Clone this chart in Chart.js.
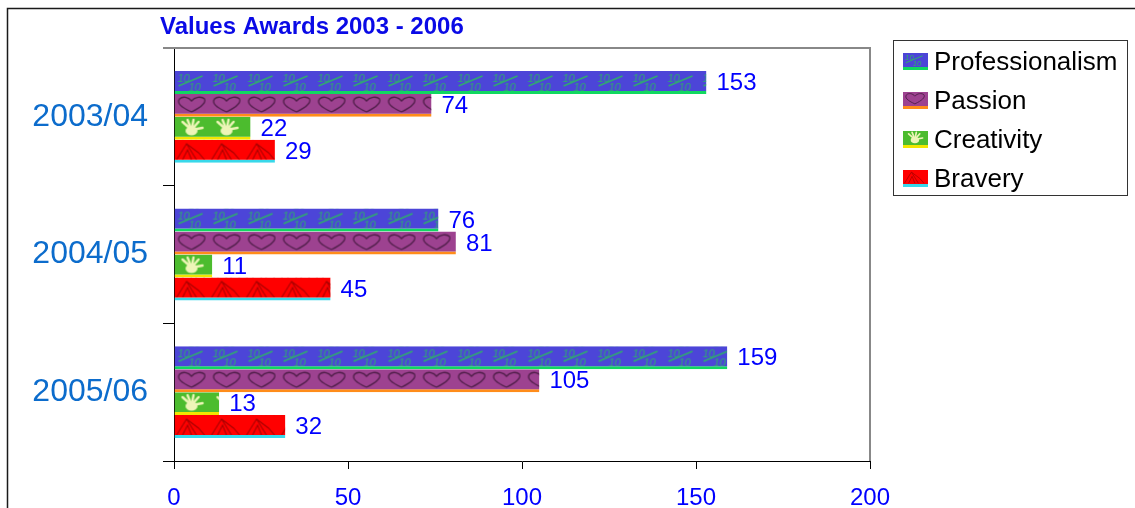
<!DOCTYPE html>
<html>
<head>
<meta charset="utf-8">
<script src="https://cdn.jsdelivr.net/npm/chart.js@4/dist/chart.umd.min.js"></script>
<style>
  body { margin: 0; background: #fff; }
  #wrap { position: relative; width: 1135px; height: 508px; overflow: hidden; }
  #legend {
    position: absolute; left: 893px; top: 40px; width: 233px; height: 154px;
    border: 1px solid #333; background: #fff;
    font-family: "Liberation Sans", Arial, sans-serif; font-size: 26px; color: #000;
  }
  .row { position: absolute; left: 9px; height: 30px; display: flex; align-items: center; }
  .row canvas { margin-right: 6px; }
</style>
</head>
<body>
<div id="wrap">
  <canvas id="chart" width="1135" height="508"></canvas>
  <div id="legend"></div>
</div>
<script>
var categories = ["2003/04", "2004/05", "2005/06"];
var professionalism = [153, 76, 159];
var passion = [74, 81, 105];
var creativity = [22, 11, 13];
var bravery = [29, 45, 32];
var xTicks = [0, 50, 100, 150, 200];
var chartTitle = "Values Awards 2003 - 2006";

var FONT = "'Liberation Sans', Arial, sans-serif";

// little picture tiles that repeat inside each bar
function drawGlyph(g, kind) {
    g.save();
    if (kind == "pro") {
        g.fillStyle = "#2fae6c";
        g.strokeStyle = "#2fae6c";
        g.lineWidth = 1.4;
        g.font = "italic 11px " + FONT;
        g.fillText("10", 3, 10);
        g.fillText("10", 14, 19);
        g.beginPath();
        g.moveTo(4, 14);
        g.lineTo(28, 4);
        g.stroke();
    } else if (kind == "pas") {
        g.strokeStyle = "#4e1e48";
        g.lineWidth = 1.3;
        g.beginPath();
        g.moveTo(17, 17);
        g.bezierCurveTo(6, 12, 2, 8, 5, 4);
        g.bezierCurveTo(8, 1, 14, 2, 17, 6);
        g.bezierCurveTo(20, 2, 27, 1, 30, 4);
        g.bezierCurveTo(32, 8, 27, 12, 17, 17);
        g.stroke();
    } else if (kind == "cre") {
        g.fillStyle = "#eef5b8";
        g.strokeStyle = "#eef5b8";
        g.lineCap = "round";
        g.beginPath();
        g.ellipse(17, 13, 6, 4.5, 0, 0, Math.PI * 2);
        g.fill();
        g.lineWidth = 2.4;
        var fingers = [[8, 4], [13, 2], [19, 2], [24, 4], [28, 10]];
        for (var i = 0; i < fingers.length; i++) {
            g.beginPath();
            g.moveTo(17, 12);
            g.lineTo(fingers[i][0], fingers[i][1]);
            g.stroke();
        }
    } else if (kind == "bra") {
        g.strokeStyle = "#a80000";
        g.lineWidth = 1.1;
        g.beginPath();
        g.moveTo(2, 19); g.lineTo(12, 3); g.lineTo(22, 19);
        g.moveTo(8, 19); g.lineTo(13, 9); g.lineTo(17, 19);
        g.moveTo(12, 3); g.lineTo(24, 12); g.lineTo(30, 19);
        g.stroke();
    }
    g.restore();
}

function makeTile(kind) {
    var c = document.createElement("canvas");
    c.width = 35;
    c.height = 20;
    drawGlyph(c.getContext("2d"), kind);
    return c;
}

var series = [
    { label: "Professionalism", data: professionalism, fill: "#4c45d8", stripe: "#10d860", glyph: "pro" },
    { label: "Passion", data: passion, fill: "#9d4290", stripe: "#ff8c1a", glyph: "pas" },
    { label: "Creativity", data: creativity, fill: "#4cbc2e", stripe: "#f2e600", glyph: "cre" },
    { label: "Bravery", data: bravery, fill: "#ff0000", stripe: "#38d8ea", glyph: "bra" }
];
series.forEach(function (s) { s.tile = makeTile(s.glyph); });

var datasets = series.map(function (s) {
    return {
        label: s.label,
        data: s.data,
        backgroundColor: s.fill,
        borderColor: s.stripe,
        borderWidth: { top: 0, right: 0, bottom: 3, left: 0 },
        borderSkipped: false,
        categoryPercentage: 0.667,
        barPercentage: 1.0
    };
});

var decorPlugin = {
    id: "decor",
    beforeDraw: function (chart) {
        var g = chart.ctx;
        g.save();
        g.strokeStyle = "#1a1a1a";
        g.lineWidth = 1.5;
        g.beginPath();
        g.moveTo(7.5, 508);
        g.lineTo(7.5, 8.5);
        g.lineTo(1135, 8.5);
        g.stroke();
        g.fillStyle = "#0a0ae6";
        g.font = "bold 24px " + FONT;
        g.textBaseline = "middle";
        g.fillText(chartTitle, 160, 27);
        g.restore();
    },
    afterDatasetsDraw: function (chart) {
        var g = chart.ctx;
        chart.data.datasets.forEach(function (ds, di) {
            var meta = chart.getDatasetMeta(di);
            var tile = series[di].tile;
            meta.data.forEach(function (bar, i) {
                var p = bar.getProps(["x", "y", "base", "height"], true);
                var top = p.y - p.height / 2;
                var w = p.x - p.base;
                var h = p.height - 3;
                g.save();
                g.beginPath();
                g.rect(p.base, top, w, h);
                g.clip();
                var pat = g.createPattern(tile, "repeat");
                pat.setTransform(new DOMMatrix().translate(p.base, top + 1));
                g.fillStyle = pat;
                g.fillRect(p.base, top, w, h);
                g.restore();

                g.save();
                g.fillStyle = "#0000ff";
                g.font = "24px " + FONT;
                g.textBaseline = "middle";
                g.fillText(String(ds.data[i]), p.x + 10, p.y + 1);
                g.restore();
            });
        });
        var a = chart.chartArea;
        g.save();
        g.strokeStyle = "#888";
        g.lineWidth = 2;
        g.beginPath();
        g.moveTo(163, a.top);
        g.lineTo(a.right, a.top);
        g.lineTo(a.right, a.bottom);
        g.stroke();
        g.restore();
    }
};

var ctx = document.getElementById("chart").getContext("2d");
var graph = new Chart(ctx, {
    type: "bar",
    data: { labels: categories, datasets: datasets },
    plugins: [decorPlugin],
    options: {
        indexAxis: "y",
        responsive: false,
        animation: false,
        layout: { padding: { left: 20, top: 48, right: 265, bottom: 0 } },
        plugins: {
            legend: { display: false },
            title: { display: false },
            tooltip: { enabled: false }
        },
        scales: {
            y: {
                grid: { offset: true, drawOnChartArea: false, tickLength: 11, color: "#000" },
                border: { color: "#000", width: 1 },
                ticks: { color: "#0c6ccc", font: { family: FONT, size: 32 }, padding: 15 },
                afterFit: function (scale) { scale.width = 154; }
            },
            x: {
                min: 0,
                max: 200,
                afterBuildTicks: function (scale) {
                    scale.ticks = xTicks.map(function (v) { return { value: v }; });
                },
                grid: { drawOnChartArea: false, tickLength: 8, color: "#000" },
                border: { color: "#000", width: 1 },
                ticks: { color: "#0000ff", font: { family: FONT, size: 24 }, padding: 15 },
                afterFit: function (scale) { scale.height = 47; }
            }
        }
    }
});

// legend, built from the same series
var legend = document.getElementById("legend");
series.forEach(function (s, i) {
    var row = document.createElement("div");
    row.className = "row";
    row.style.top = (5 + i * 39) + "px";
    var sw = document.createElement("canvas");
    sw.width = 25;
    sw.height = 17;
    var g = sw.getContext("2d");
    g.fillStyle = s.fill;
    g.fillRect(0, 0, 25, 14);
    g.save();
    g.scale(0.7, 0.7);
    drawGlyph(g, s.glyph);
    g.restore();
    g.fillStyle = s.stripe;
    g.fillRect(0, 14, 25, 3);
    row.appendChild(sw);
    var t = document.createElement("span");
    t.textContent = s.label;
    row.appendChild(t);
    legend.appendChild(row);
});
</script>
</body>
</html>
